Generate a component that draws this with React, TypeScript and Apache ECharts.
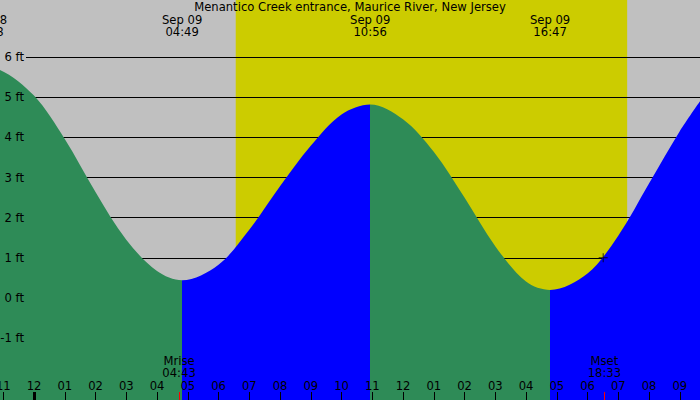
import { useEffect, useRef } from "react";
import * as echarts from "echarts";

const TITLE = "Menantico Creek entrance, Maurice River, New Jersey";

// hours counted from midnight of Sep 09, heights in feet
const tideHours = [
  -1.533, -1.106, 0, 1, 2, 3, 4, 4.817, 6, 7, 8, 9, 10, 10.933, 12, 13, 14, 15,
  16, 16.783, 18, 19, 20, 21, 21.66,
];
const tideFeet = [
  5.72, 5.68, 5.04, 3.96, 2.64, 1.45, 0.67, 0.44, 0.83, 1.7, 2.78, 3.79, 4.57,
  4.82, 4.45, 3.64, 2.5, 1.29, 0.41, 0.2, 0.61, 1.55, 2.85, 4.15, 4.9,
];

// high / low water
const extremeHours = [-1.533, 4.817, 10.933, 16.783];
const extremeKinds = ["high", "low", "high", "low"];
const extremeDates = ["Sep 08", "Sep 09", "Sep 09", "Sep 09"];
const extremeTimes = ["22:28", "04:49", "10:56", "16:47"];

const hourTicks = [
  -1, 0, 1, 2, 3, 4, 5, 6, 7, 8, 9, 10, 11, 12, 13, 14, 15, 16, 17, 18, 19, 20,
  21,
];
const hourLabels = [
  "11", "12", "01", "02", "03", "04", "05", "06", "07", "08", "09", "10", "11",
  "12", "01", "02", "03", "04", "05", "06", "07", "08", "09",
];
const midnightTicks = [0];

const feetTicks = [-1, 0, 1, 2, 3, 4, 5, 6];

const daylightHours = [6.56, 19.29]; // sunrise, sunset
const moonHours = [4.717, 18.55];
const moonNames = ["Mrise", "Mset"];
const moonTimes = ["04:43", "18:33"];

const nowPoint = [18.51, 1.0];

// colours
const NIGHT = "#C0C0C0";
const DAY = "#CCCC00";
const FALLING = "#2E8B57";
const RISING = "#0000FF";
const FONT = "DejaVu Sans";
const FONT_SIZE = 11.6;

// axis ranges (the plot runs a bit past the page on the sides)
const X_MIN = -2;
const X_MAX = 22;
const Y_MIN = -2.54;
const Y_MAX = 7.42;
const GRID_LINE_FROM = -0.26;

const findIndex = (list: number[], v: number) =>
  list.findIndex((x) => Math.abs(x - v) < 1e-6);

export default function App() {
  const chartRef = useRef<HTMLDivElement>(null);

  useEffect(() => {
    if (!chartRef.current) return;
    const chart = echarts.init(chartRef.current, null, { renderer: "svg" });

    const pieces: any[] = [
      {
        lt: extremeHours[0],
        color: extremeKinds[0] === "high" ? RISING : FALLING,
      },
    ];
    extremeHours.forEach((h, i) => {
      const color = extremeKinds[i] === "high" ? FALLING : RISING;
      const next = extremeHours[i + 1];
      pieces.push(next === undefined ? { gte: h, color } : { gte: h, lt: next, color });
    });

    const text = { fontFamily: FONT, fontSize: FONT_SIZE, color: "#000" };
    const hiddenLine = { show: false, onZero: false };

    const option: echarts.EChartsOption = {
      animation: false,
      backgroundColor: NIGHT,
      title: {
        text: TITLE,
        left: "center",
        top: 1,
        padding: 0,
        textStyle: { ...text, fontWeight: "normal", lineHeight: 12 },
      },
      grid: {
        left: -27.5,
        right: -10.5,
        top: 0,
        bottom: 0,
        outerBoundsMode: "none",
      } as any,
      visualMap: {
        type: "piecewise",
        show: false,
        dimension: 0,
        seriesIndex: 0,
        pieces,
      },
      xAxis: [
        {
          type: "value",
          z: 10,
          min: X_MIN,
          max: X_MAX,
          position: "bottom",
          axisLine: hiddenLine,
          splitLine: { show: false },
          axisTick: {
            show: true,
            inside: true,
            length: 8,
            customValues: hourTicks,
            lineStyle: { color: "#000", width: 1 },
          },
          axisLabel: {
            show: true,
            inside: true,
            margin: 8,
            customValues: hourTicks,
            hideOverlap: false,
            ...text,
            lineHeight: 12,
            formatter: (v: number) => hourLabels[findIndex(hourTicks, v)] ?? "",
          },
        },
        {
          type: "value",
          z: 10,
          min: X_MIN,
          max: X_MAX,
          position: "bottom",
          axisLine: hiddenLine,
          splitLine: { show: false },
          axisTick: {
            show: true,
            inside: true,
            length: 8,
            customValues: midnightTicks,
            lineStyle: { color: "#000", width: 3 },
          },
          axisLabel: { show: false },
        },
        {
          type: "value",
          z: 10,
          min: X_MIN,
          max: X_MAX,
          position: "bottom",
          axisLine: hiddenLine,
          splitLine: { show: false },
          axisTick: {
            show: true,
            inside: true,
            length: 8,
            customValues: moonHours,
            lineStyle: { color: "#FF0000", width: 1 },
          },
          axisLabel: {
            show: true,
            inside: true,
            margin: 21,
            customValues: moonHours,
            hideOverlap: false,
            ...text,
            lineHeight: 12,
            formatter: (v: number) => {
              const i = findIndex(moonHours, v);
              return i < 0 ? "" : `${moonNames[i]}\n${moonTimes[i]}`;
            },
          },
        },
        {
          type: "value",
          z: 10,
          min: X_MIN,
          max: X_MAX,
          position: "top",
          axisLine: hiddenLine,
          splitLine: { show: false },
          axisTick: { show: false },
          axisLabel: {
            show: true,
            inside: true,
            margin: 14,
            customValues: extremeHours,
            hideOverlap: false,
            ...text,
            lineHeight: 12,
            formatter: (v: number) => {
              const i = findIndex(extremeHours, v);
              return i < 0 ? "" : `${extremeDates[i]}\n${extremeTimes[i]}`;
            },
          },
        },
      ],
      yAxis: {
        type: "value",
        z: 10,
        min: Y_MIN,
        max: Y_MAX,
        axisLine: hiddenLine,
        axisTick: { show: false },
        splitLine: { show: false },
        axisLabel: {
          show: true,
          inside: true,
          align: "right",
          margin: 51.5,
          customValues: feetTicks,
          hideOverlap: false,
          ...text,
          formatter: (v: number) => `${v} ft`,
        },
      },
      series: [
        {
          type: "line",
          z: 3,
          data: tideHours.map((h, i) => [h, tideFeet[i]]),
          smooth: 0.33,
          symbol: "none",
          silent: true,
          lineStyle: { width: 0 },
          areaStyle: { opacity: 1, origin: "start" },
          markArea: {
            z: 1,
            silent: true,
            itemStyle: { color: DAY, opacity: 1, borderWidth: 0 },
            data: [[{ xAxis: daylightHours[0] }, { xAxis: daylightHours[1] }]],
          },
          markLine: {
            z: 2,
            silent: true,
            symbol: ["none", "none"],
            label: { show: false },
            lineStyle: { type: "solid", color: "#000", width: 1 },
            data: feetTicks.map((v) => [
              { coord: [GRID_LINE_FROM, v] },
              { coord: [X_MAX, v] },
            ]) as any,
          },
        },
        {
          type: "scatter",
          z: 4,
          silent: true,
          data: [nowPoint],
          symbol: "path://M0,4H9V5H0Z M4,0H5V9H4Z",
          symbolSize: 9,
          itemStyle: { color: "#000" },
        },
      ],
    };

    chart.setOption(option);
    return () => chart.dispose();
  }, []);

  return (
    <div
      ref={chartRef}
      style={{ position: "fixed", left: 0, top: 0, width: 700, height: 400 }}
    />
  );
}
